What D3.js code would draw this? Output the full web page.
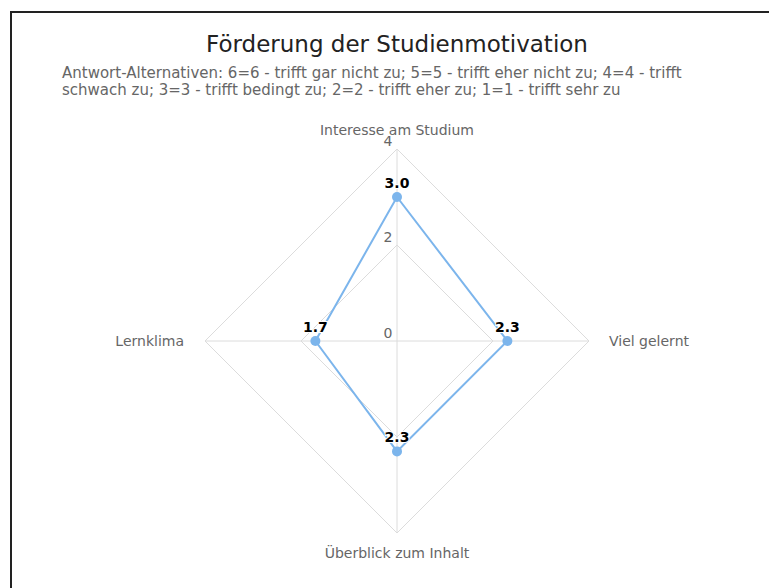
<!DOCTYPE html>
<html>
<head>
<meta charset="utf-8">
<script src="https://cdn.jsdelivr.net/npm/d3@7"></script>
<style>
  body { margin: 0; background: #fff; }
  svg { font-family: "DejaVu Sans", sans-serif; }
</style>
</head>
<body>
<svg id="chart" width="769" height="588"></svg>
<script>
var categories = ["Interesse am Studium", "Viel gelernt", "Überblick zum Inhalt", "Lernklima"];
var values = [3.0, 2.3, 2.3, 1.7];
var ticks = [0, 2, 4];
var title = "Förderung der Studienmotivation";
var subtitleLines = ["Antwort-Alternativen: 6=6 - trifft gar nicht zu; 5=5 - trifft eher nicht zu; 4=4 - trifft",
                     "schwach zu; 3=3 - trifft bedingt zu; 2=2 - trifft eher zu; 1=1 - trifft sehr zu"];

var svg = d3.select("#chart");
var cx = 397, cy = 341;

// frame
svg.append("path")
    .attr("d", "M11,588 L11,12 L769,12")
    .style("fill", "none").style("stroke", "#222").style("stroke-width", 2);

svg.append("text")
    .attr("x", cx).attr("y", 52)
    .attr("text-anchor", "middle")
    .style("font-size", "23px").style("fill", "#222")
    .text(title);

svg.append("text")
    .attr("x", 62).attr("y", 78)
    .style("font-size", "15px").style("fill", "#666")
    .selectAll("tspan").data(subtitleLines).enter()
    .append("tspan")
    .attr("x", 62)
    .attr("dy", function (d, i) { return i == 0 ? 0 : 17; })
    .text(function (d) { return d; });

var rScale = d3.scaleLinear().domain([0, 4]).range([0, 192]);
var angle = d3.scaleLinear().domain([0, categories.length]).range([0, 2 * Math.PI]);

function px(i, v) { return cx + rScale(v) * Math.sin(angle(i)); }
function py(i, v) { return cy - rScale(v) * Math.cos(angle(i)); }

var grid = svg.append("g");
// polygons
ticks.filter(function (t) { return t > 0; }).forEach(function (t) {
    var pts = categories.map(function (c, i) { return [px(i, t), py(i, t)]; });
    grid.append("path")
        .attr("d", d3.line()(pts) + "Z")
        .style("fill", "none").style("stroke", "#dcdcdc").style("stroke-width", 1);
});
// spokes
categories.forEach(function (c, i) {
    grid.append("line")
        .attr("x1", cx).attr("y1", cy)
        .attr("x2", px(i, 4)).attr("y2", py(i, 4))
        .style("stroke", "#dcdcdc").style("stroke-width", 1);
});

// tick labels
svg.append("g").selectAll("text").data(ticks).enter()
    .append("text")
    .attr("x", cx - 9)
    .attr("y", function (d) { return cy - rScale(d) - 3; })
    .attr("text-anchor", "middle")
    .style("font-size", "14px").style("fill", "#666")
    .text(function (d) { return d; });

// category labels
var labelPos = [
    { dx: 0, dy: -14, anchor: "middle" },
    { dx: 20, dy: 5, anchor: "start" },
    { dx: 0, dy: 217 - 192 + 0, anchor: "middle" },
    { dx: -21, dy: 5, anchor: "end" }
];
svg.append("g").selectAll("text").data(categories).enter()
    .append("text")
    .attr("x", function (d, i) { return px(i, 4) + labelPos[i].dx; })
    .attr("y", function (d, i) { return py(i, 4) + labelPos[i].dy; })
    .attr("text-anchor", function (d, i) { return labelPos[i].anchor; })
    .style("font-size", "14px").style("fill", "#666")
    .text(function (d) { return d; });

// series
var pts = values.map(function (v, i) { return [px(i, v), py(i, v)]; });
svg.append("path")
    .attr("d", d3.line()(pts) + "Z")
    .style("fill", "none").style("stroke", "#7cb5ec").style("stroke-width", 2);

svg.append("g").selectAll("circle").data(values).enter()
    .append("circle")
    .attr("cx", function (d, i) { return px(i, d); })
    .attr("cy", function (d, i) { return py(i, d); })
    .attr("r", 5)
    .style("fill", "#7cb5ec");

svg.append("g").selectAll("text").data(values).enter()
    .append("text")
    .attr("x", function (d, i) { return px(i, d); })
    .attr("y", function (d, i) { return py(i, d) - 9; })
    .attr("text-anchor", "middle")
    .style("font-size", "14px").style("font-weight", "bold").style("fill", "#000")
    .style("stroke", "#fff").style("stroke-width", 2).style("paint-order", "stroke")
    .text(function (d) { return d.toFixed(1); });
</script>
</body>
</html>
